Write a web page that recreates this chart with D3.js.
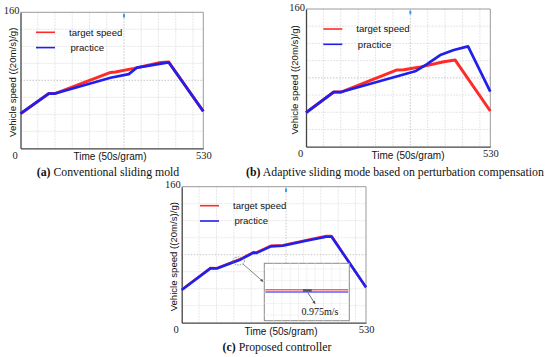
<!DOCTYPE html>
<html lang="en">
<head>
    <meta charset="UTF-8">
    <title>Vehicle speed tracking</title>
    <script src="https://d3js.org/d3.v7.min.js"></script>
    <style>
        body { margin: 0; background: #fff; }
        .sans { font-family: "Liberation Sans", Arial, sans-serif; }
        .serif { font-family: "Liberation Serif", "Times New Roman", serif; }
    </style>
</head>
<body>
<svg width="550" height="357"></svg>
<script>
// panel (a) conventional sliding mode
var aTargetTime = [0, 82, 100, 261, 275, 329, 406, 430, 530];
var aTarget = [40.7, 64.4, 64.4, 89.3, 89.8, 94, 101, 101.5, 43.5];
var aPracticeTime = [0, 82, 100, 261, 314, 338, 425, 430, 530];
var aPractice = [40.7, 64.4, 64.4, 83, 87.3, 95, 100.7, 101, 43.5];

// panel (b) adaptive sliding mode
var bTargetTime = [0, 79.5, 100.6, 260, 281, 324, 396, 429, 530];
var bTarget = [39.5, 63.5, 63.5, 89, 89.4, 92.2, 98.8, 100.7, 41.5];
var bPracticeTime = [0, 79.5, 100.6, 314, 348, 386, 425, 466, 530];
var bPractice = [39.5, 63.5, 63.5, 87.6, 96, 106.5, 112.3, 116.6, 63.9];

// panel (c) proposed controller
var cTime = [0, 82.7, 101, 166, 207, 214, 257, 291, 358, 416, 431, 530];
var cTarget = [38.9, 64.3, 64.2, 74.4, 83.1, 82.6, 90.6, 91.3, 97.2, 102, 102, 41.6];
var cPractice = [38.4, 63.9, 63.7, 73.7, 82.4, 81.9, 89.8, 90.6, 96.5, 101.2, 101.2, 41.6];

// zoomed inset of panel (c)
var insetTime = [0, 10];
var insetTarget = [75.3, 75.3];
var insetPractice = [74.5, 74.5];

var xTicks = [0, 530];
var yTicks = [160];
var seriesNames = ['target speed', 'practice'];
var captions = [
    ['(a)', ' Conventional sliding mold'],
    ['(b)', ' Adaptive sliding mode based on perturbation compensation'],
    ['(c)', ' Proposed controller']
];

var red = '#ff2a2a', blue = '#2020ee';
var svg = d3.select('svg');

var panels = [
    { left: 20.5, top: 12.3, right: 203.3, bottom: 148.3,
      target: d3.zip(aTargetTime, aTarget), practice: d3.zip(aPracticeTime, aPractice),
      legX: 36, legY: 32.3, ylabX: 13, timeX: 110, capX: 108, capY: 175.5, tw: 3, pw: 2.7 },
    { left: 306, top: 9, right: 490.3, bottom: 146.7,
      target: d3.zip(bTargetTime, bTarget), practice: d3.zip(bPracticeTime, bPractice),
      legX: 323.3, legY: 29, ylabX: 294.5, timeX: 408, capX: 395, capY: 175.5, tw: 3, pw: 2.7 },
    { left: 181.7, top: 186.7, right: 366, bottom: 322.7,
      target: d3.zip(cTime, cTarget), practice: d3.zip(cTime, cPractice),
      legX: 200, legY: 205.7, ylabX: 173.5, timeX: 281, capX: 277, capY: 351, tw: 2.4, pw: 2.6 }
];

panels.forEach(function (p, idx) {
    var x = d3.scaleLinear().domain([0, 530]).range([p.left, p.right]);
    var y = d3.scaleLinear().domain([0, 160]).range([p.bottom, p.top]);
    var g = svg.append('g');

    // grid
    g.selectAll('.vg').data(d3.range(50, 530, 50)).enter().append('line')
        .attr('x1', d => x(d)).attr('x2', d => x(d))
        .attr('y1', p.top).attr('y2', p.bottom)
        .attr('stroke', d => d === 300 ? '#b8b8b8' : '#e0e0e0')
        .attr('stroke-dasharray', d => d === 300 ? '1.5,1.5' : '2,1')
        .attr('stroke-width', 0.8);
    g.selectAll('.hg').data(d3.range(20, 160, 20)).enter().append('line')
        .attr('x1', p.left).attr('x2', p.right)
        .attr('y1', d => y(d)).attr('y2', d => y(d))
        .attr('stroke', d => d === 80 ? '#b8b8b8' : '#e0e0e0')
        .attr('stroke-dasharray', d => d === 80 ? '1.5,1.5' : '2,1')
        .attr('stroke-width', 0.8);

    // frame
    g.append('path')
        .attr('d', 'M' + p.left + ',' + p.top + 'H' + p.right + 'V' + p.bottom)
        .attr('fill', 'none').attr('stroke', '#9a9a9a').attr('stroke-width', 1);

    // axes
    var xa = g.append('g').attr('transform', 'translate(0,' + p.bottom + ')')
        .call(d3.axisBottom(x).tickValues(xTicks).tickSize(0).tickPadding(3));
    var ya = g.append('g').attr('transform', 'translate(' + p.left + ',0)')
        .call(d3.axisLeft(y).tickValues(yTicks).tickSize(0).tickPadding(1));
    [xa, ya].forEach(function (a) {
        a.select('.domain').attr('stroke', '#444').attr('stroke-width', 1.3);
        a.selectAll('text').attr('class', 'serif').attr('font-size', 10.5).attr('fill', '#222');
    });
    xa.selectAll('.tick').filter(d => d === 0).select('text').attr('dx', -6);
    ya.selectAll('text').attr('dy', '0.1em');

    // blue cursor mark at top
    g.append('rect').attr('x', x(300) - 1).attr('y', p.top + 1.5)
        .attr('width', 2).attr('height', 4).attr('rx', 1).attr('fill', '#3a94f0');

    // lines
    var line = d3.line().x(d => x(d[0])).y(d => y(d[1]));
    g.append('path').datum(p.target).attr('d', line)
        .attr('fill', 'none').attr('stroke', red).attr('stroke-width', p.tw)
        .attr('stroke-linejoin', 'round');
    g.append('path').datum(p.practice).attr('d', line)
        .attr('fill', 'none').attr('stroke', blue).attr('stroke-width', p.pw)
        .attr('stroke-linejoin', 'round');

    // legend
    [red, blue].forEach(function (c, i) {
        var ly = p.legY + i * 15.3;
        g.append('line').attr('x1', p.legX).attr('x2', p.legX + 19)
            .attr('y1', ly).attr('y2', ly).attr('stroke', c).attr('stroke-width', 1.6);
        g.append('text').attr('class', 'sans').attr('font-size', 9.6).attr('fill', '#111')
            .attr('x', p.legX + 33 + i * 1.5).attr('y', ly + 3.3).text(seriesNames[i]);
    });

    // axis titles
    g.append('text').attr('class', 'sans').attr('font-size', 9.6).attr('fill', '#111')
        .attr('text-anchor', 'middle')
        .attr('transform', 'translate(' + (p.ylabX + 3.3) + ',' + ((p.top + p.bottom) / 2 + 2) + ') rotate(-90)')
        .text('Vehicle speed ((20m/s)/g)');
    g.append('text').attr('class', 'sans').attr('font-size', 10).attr('fill', '#111')
        .attr('text-anchor', 'middle').attr('x', p.timeX).attr('y', p.bottom + 12)
        .text('Time (50s/gram)');

    // caption
    var cap = g.append('text').attr('class', 'serif').attr('font-size', 11.8).attr('fill', '#111')
        .attr('text-anchor', 'middle').attr('x', p.capX).attr('y', p.capY);
    cap.append('tspan').attr('font-weight', 'bold').text(captions[idx][0]);
    cap.append('tspan').text(captions[idx][1]);
});

// inset in panel (c)
var inset = { left: 264.3, top: 263.3, right: 349.3, bottom: 320.7 };
var ix = d3.scaleLinear().domain([0, 10]).range([inset.left + 1, inset.right - 1]);
var iy = d3.scaleLinear().domain([64.5, 84.5]).range([inset.bottom, inset.top]);
var ig = svg.append('g');
ig.append('rect').attr('x', inset.left).attr('y', inset.top)
    .attr('width', inset.right - inset.left).attr('height', inset.bottom - inset.top)
    .attr('fill', '#fff').attr('stroke', '#8a8a8a').attr('stroke-width', 1);
ig.selectAll('.ivg').data(d3.range(1, 10)).enter().append('line')
    .attr('x1', d => ix(d)).attr('x2', d => ix(d))
    .attr('y1', inset.top).attr('y2', inset.bottom)
    .attr('stroke', '#ececec').attr('stroke-width', 0.7);
ig.selectAll('.ihg').data(d3.range(66.5, 84, 4)).enter().append('line')
    .attr('x1', inset.left).attr('x2', inset.right)
    .attr('y1', d => iy(d)).attr('y2', d => iy(d))
    .attr('stroke', '#ececec').attr('stroke-width', 0.7);
var iline = d3.line().x((d, i) => ix(insetTime[i])).y(d => iy(d));
ig.append('path').datum(insetTarget).attr('d', iline)
    .attr('stroke', '#ff6060').attr('stroke-width', 1.4).attr('fill', 'none');
ig.append('path').datum(insetPractice).attr('d', iline)
    .attr('stroke', '#6060ff').attr('stroke-width', 1.4).attr('fill', 'none');
ig.append('rect').attr('x', 303).attr('y', iy(insetTarget[0]) - 0.5).attr('width', 8.7).attr('height', 2.6)
    .attr('fill', '#555');

svg.append('defs').append('marker').attr('id', 'arr')
    .attr('viewBox', '0 0 6 6').attr('refX', 5).attr('refY', 3)
    .attr('markerWidth', 4).attr('markerHeight', 4).attr('orient', 'auto')
    .append('path').attr('d', 'M0,0L6,3L0,6Z').attr('fill', '#555');

ig.append('ellipse').attr('cx', 238.5).attr('cy', 261).attr('rx', 6).attr('ry', 4)
    .attr('fill', 'none').attr('stroke', '#777').attr('stroke-dasharray', '1.5,1').attr('stroke-width', 0.8);
ig.append('line').attr('x1', 243).attr('y1', 264).attr('x2', 263).attr('y2', 281.5)
    .attr('stroke', '#666').attr('stroke-width', 0.8).attr('marker-end', 'url(#arr)');
ig.append('line').attr('x1', 308).attr('y1', 293).attr('x2', 315).attr('y2', 303.5)
    .attr('stroke', '#444').attr('stroke-width', 0.8).attr('marker-end', 'url(#arr)');
ig.append('text').attr('class', 'serif').attr('font-size', 10).attr('fill', '#111')
    .attr('x', 301.5).attr('y', 314.5).text('0.975m/s');
</script>
</body>
</html>
